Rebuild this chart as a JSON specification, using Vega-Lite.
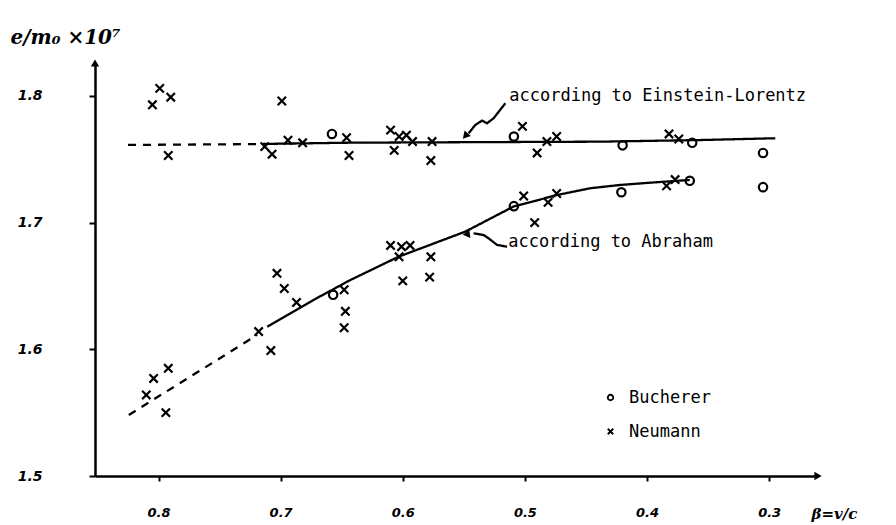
{
  "$schema": "https://vega.github.io/schema/vega-lite/v6.json",
  "width": 723,
  "height": 413,
  "autosize": {"type": "none"},
  "padding": {"left": 95, "top": 63, "right": 78, "bottom": 49},
  "background": "white",
  "config": {"view": {"stroke": null}, "axis": {"grid": false}},
  "datasets": {
    "obs": [
      {"beta": 0.805, "em": 1.793, "obs": "Neumann"},
      {"beta": 0.799, "em": 1.806, "obs": "Neumann"},
      {"beta": 0.790, "em": 1.799, "obs": "Neumann"},
      {"beta": 0.699, "em": 1.796, "obs": "Neumann"},
      {"beta": 0.792, "em": 1.753, "obs": "Neumann"},
      {"beta": 0.713, "em": 1.760, "obs": "Neumann"},
      {"beta": 0.707, "em": 1.754, "obs": "Neumann"},
      {"beta": 0.694, "em": 1.765, "obs": "Neumann"},
      {"beta": 0.682, "em": 1.763, "obs": "Neumann"},
      {"beta": 0.646, "em": 1.767, "obs": "Neumann"},
      {"beta": 0.644, "em": 1.753, "obs": "Neumann"},
      {"beta": 0.610, "em": 1.773, "obs": "Neumann"},
      {"beta": 0.603, "em": 1.768, "obs": "Neumann"},
      {"beta": 0.597, "em": 1.769, "obs": "Neumann"},
      {"beta": 0.592, "em": 1.764, "obs": "Neumann"},
      {"beta": 0.607, "em": 1.757, "obs": "Neumann"},
      {"beta": 0.576, "em": 1.764, "obs": "Neumann"},
      {"beta": 0.577, "em": 1.749, "obs": "Neumann"},
      {"beta": 0.502, "em": 1.776, "obs": "Neumann"},
      {"beta": 0.490, "em": 1.755, "obs": "Neumann"},
      {"beta": 0.482, "em": 1.764, "obs": "Neumann"},
      {"beta": 0.474, "em": 1.768, "obs": "Neumann"},
      {"beta": 0.382, "em": 1.770, "obs": "Neumann"},
      {"beta": 0.374, "em": 1.766, "obs": "Neumann"},
      {"beta": 0.703, "em": 1.660, "obs": "Neumann"},
      {"beta": 0.697, "em": 1.648, "obs": "Neumann"},
      {"beta": 0.687, "em": 1.637, "obs": "Neumann"},
      {"beta": 0.718, "em": 1.614, "obs": "Neumann"},
      {"beta": 0.708, "em": 1.599, "obs": "Neumann"},
      {"beta": 0.648, "em": 1.647, "obs": "Neumann"},
      {"beta": 0.647, "em": 1.630, "obs": "Neumann"},
      {"beta": 0.648, "em": 1.617, "obs": "Neumann"},
      {"beta": 0.810, "em": 1.564, "obs": "Neumann"},
      {"beta": 0.804, "em": 1.577, "obs": "Neumann"},
      {"beta": 0.792, "em": 1.585, "obs": "Neumann"},
      {"beta": 0.794, "em": 1.550, "obs": "Neumann"},
      {"beta": 0.610, "em": 1.682, "obs": "Neumann"},
      {"beta": 0.601, "em": 1.681, "obs": "Neumann"},
      {"beta": 0.594, "em": 1.682, "obs": "Neumann"},
      {"beta": 0.603, "em": 1.673, "obs": "Neumann"},
      {"beta": 0.577, "em": 1.673, "obs": "Neumann"},
      {"beta": 0.600, "em": 1.654, "obs": "Neumann"},
      {"beta": 0.578, "em": 1.657, "obs": "Neumann"},
      {"beta": 0.501, "em": 1.721, "obs": "Neumann"},
      {"beta": 0.492, "em": 1.700, "obs": "Neumann"},
      {"beta": 0.481, "em": 1.716, "obs": "Neumann"},
      {"beta": 0.474, "em": 1.723, "obs": "Neumann"},
      {"beta": 0.384, "em": 1.729, "obs": "Neumann"},
      {"beta": 0.377, "em": 1.734, "obs": "Neumann"},
      {"beta": 0.658, "em": 1.770, "obs": "Bucherer"},
      {"beta": 0.509, "em": 1.768, "obs": "Bucherer"},
      {"beta": 0.420, "em": 1.761, "obs": "Bucherer"},
      {"beta": 0.363, "em": 1.763, "obs": "Bucherer"},
      {"beta": 0.305, "em": 1.755, "obs": "Bucherer"},
      {"beta": 0.657, "em": 1.643, "obs": "Bucherer"},
      {"beta": 0.509, "em": 1.713, "obs": "Bucherer"},
      {"beta": 0.421, "em": 1.724, "obs": "Bucherer"},
      {"beta": 0.365, "em": 1.733, "obs": "Bucherer"},
      {"beta": 0.305, "em": 1.728, "obs": "Bucherer"}
    ],
    "curves": [
      {"curve": "EL-dash", "dash": "dashed", "ord": 1, "beta": 0.825, "em": 1.7613},
      {"curve": "EL-dash", "dash": "dashed", "ord": 2, "beta": 0.715, "em": 1.7620},
      {"curve": "EL", "dash": "solid", "ord": 1, "beta": 0.715, "em": 1.7621},
      {"curve": "EL", "dash": "solid", "ord": 2, "beta": 0.643, "em": 1.7631},
      {"curve": "EL", "dash": "solid", "ord": 3, "beta": 0.520, "em": 1.7636},
      {"curve": "EL", "dash": "solid", "ord": 4, "beta": 0.438, "em": 1.7639},
      {"curve": "EL", "dash": "solid", "ord": 5, "beta": 0.356, "em": 1.7652},
      {"curve": "EL", "dash": "solid", "ord": 6, "beta": 0.295, "em": 1.7666},
      {"curve": "Ab-dash", "dash": "dashed", "ord": 1, "beta": 0.8243, "em": 1.5482},
      {"curve": "Ab-dash", "dash": "dashed", "ord": 2, "beta": 0.7192, "em": 1.6113},
      {"curve": "Ab", "dash": "solid", "ord": 1, "beta": 0.7110, "em": 1.6179},
      {"curve": "Ab", "dash": "solid", "ord": 2, "beta": 0.6732, "em": 1.6389},
      {"curve": "Ab", "dash": "solid", "ord": 3, "beta": 0.6429, "em": 1.6547},
      {"curve": "Ab", "dash": "solid", "ord": 4, "beta": 0.6034, "em": 1.6731},
      {"curve": "Ab", "dash": "solid", "ord": 5, "beta": 0.5488, "em": 1.6929},
      {"curve": "Ab", "dash": "solid", "ord": 6, "beta": 0.5095, "em": 1.7126},
      {"curve": "Ab", "dash": "solid", "ord": 7, "beta": 0.4737, "em": 1.7218},
      {"curve": "Ab", "dash": "solid", "ord": 8, "beta": 0.4468, "em": 1.7271},
      {"curve": "Ab", "dash": "solid", "ord": 9, "beta": 0.4223, "em": 1.7297},
      {"curve": "Ab", "dash": "solid", "ord": 10, "beta": 0.3977, "em": 1.7315},
      {"curve": "Ab", "dash": "solid", "ord": 11, "beta": 0.3650, "em": 1.7337},
      {"curve": "arrowEL", "dash": "solid", "ord": 1, "beta": 0.5160, "em": 1.7942},
      {"curve": "arrowEL", "dash": "solid", "ord": 2, "beta": 0.5256, "em": 1.7824},
      {"curve": "arrowEL", "dash": "solid", "ord": 3, "beta": 0.5310, "em": 1.7784},
      {"curve": "arrowEL", "dash": "solid", "ord": 4, "beta": 0.5351, "em": 1.7805},
      {"curve": "arrowEL", "dash": "solid", "ord": 5, "beta": 0.5406, "em": 1.7771},
      {"curve": "arrowEL", "dash": "solid", "ord": 6, "beta": 0.5461, "em": 1.7705},
      {"curve": "arrowAb", "dash": "solid", "ord": 1, "beta": 0.5146, "em": 1.6810},
      {"curve": "arrowAb", "dash": "solid", "ord": 2, "beta": 0.5228, "em": 1.6824},
      {"curve": "arrowAb", "dash": "solid", "ord": 3, "beta": 0.5297, "em": 1.6876},
      {"curve": "arrowAb", "dash": "solid", "ord": 4, "beta": 0.5338, "em": 1.6902},
      {"curve": "arrowAb", "dash": "solid", "ord": 5, "beta": 0.5420, "em": 1.6916}
    ],
    "heads": [
      {"head": "EL", "beta": 0.5488, "em": 1.7684},
      {"head": "Ab", "beta": 0.5480, "em": 1.6908},
      {"head": "yaxis", "beta": 0.852, "em": 1.826},
      {"head": "xaxis", "beta": 0.26, "em": 1.5}
    ],
    "notes": [
      {"beta": 0.5128, "em": 1.7960, "label": "according to Einstein-Lorentz"},
      {"beta": 0.5136, "em": 1.6808, "label": "according to Abraham"}
    ]
  },
  "encoding": {
    "x": {
      "field": "beta",
      "type": "quantitative",
      "scale": {"domain": [0.26, 0.852], "reverse": true, "nice": false, "zero": false},
      "axis": {
        "values": [0.3, 0.4, 0.5, 0.6, 0.7, 0.8],
        "format": ".1f",
        "labelFont": "DejaVu Sans",
        "labelFontStyle": "italic",
        "labelFontWeight": "bold",
        "labelFontSize": 13,
        "labelColor": "black",
        "labelPadding": 25,
        "labelFlush": false,
        "tickSize": 5,
        "tickWidth": 2,
        "tickColor": "black",
        "domainColor": "black",
        "domainWidth": 2.5,
        "title": "β=v/c",
        "titleX": 716,
        "titleY": 37,
        "titleAlign": "left",
        "titleBaseline": "middle",
        "titleFont": "DejaVu Serif",
        "titleFontStyle": "italic",
        "titleFontWeight": "bold",
        "titleFontSize": 15,
        "titleColor": "black"
      }
    },
    "y": {
      "field": "em",
      "type": "quantitative",
      "scale": {"domain": [1.5, 1.826], "nice": false, "zero": false},
      "axis": {
        "values": [1.5, 1.6, 1.7, 1.8],
        "format": ".1f",
        "labelFont": "DejaVu Sans",
        "labelFontStyle": "italic",
        "labelFontWeight": "bold",
        "labelFontSize": 14,
        "labelColor": "black",
        "labelPadding": 47,
        "tickSize": 6,
        "tickWidth": 2,
        "tickColor": "black",
        "domainColor": "black",
        "domainWidth": 2.5,
        "title": "e/m₀ ×10⁷",
        "titleAngle": 0,
        "titleX": -85,
        "titleY": -20,
        "titleAlign": "left",
        "titleBaseline": "alphabetic",
        "titleFont": "DejaVu Serif",
        "titleFontStyle": "italic",
        "titleFontWeight": "bold",
        "titleFontSize": 20,
        "titleColor": "black"
      }
    }
  },
  "layer": [
    {
      "data": {"name": "curves"},
      "mark": {"type": "line", "color": "black", "strokeWidth": 2.3},
      "encoding": {
        "detail": {"field": "curve"},
        "order": {"field": "ord", "type": "quantitative"},
        "strokeDash": {
          "field": "dash",
          "type": "nominal",
          "scale": {"domain": ["solid", "dashed"], "range": [[1, 0], [8, 7]]},
          "legend": null
        }
      }
    },
    {
      "data": {"name": "obs"},
      "mark": {"type": "point", "filled": false, "color": "black", "strokeWidth": 2.2, "opacity": 1, "size": 70},
      "encoding": {
        "shape": {
          "field": "obs",
          "type": "nominal",
          "scale": {"domain": ["Bucherer", "Neumann"], "range": ["circle", "M-1,-1L1,1M1,-1L-1,1"]},
          "legend": {
            "orient": "none",
            "legendX": 507,
            "legendY": 326,
            "title": null,
            "labelFont": "DejaVu Sans Mono",
            "labelFontSize": 17,
            "labelColor": "black",
            "symbolSize": 30,
            "symbolStrokeWidth": 1.8,
            "symbolStrokeColor": "black",
            "rowPadding": 16,
            "labelOffset": 10
          }
        }
      }
    },
    {
      "data": {"name": "heads"},
      "transform": [{"filter": "datum.head === 'EL'"}],
      "mark": {"type": "point", "shape": "triangle-up", "filled": true, "color": "black", "opacity": 1, "size": 70, "angle": 222}
    },
    {
      "data": {"name": "heads"},
      "transform": [{"filter": "datum.head === 'Ab'"}],
      "mark": {"type": "point", "shape": "triangle-up", "filled": true, "color": "black", "opacity": 1, "size": 70, "angle": 262}
    },
    {
      "data": {"name": "heads"},
      "transform": [{"filter": "datum.head === 'yaxis'"}],
      "mark": {"type": "point", "shape": "triangle-up", "filled": true, "color": "black", "opacity": 1, "size": 70}
    },
    {
      "data": {"name": "heads"},
      "transform": [{"filter": "datum.head === 'xaxis'"}],
      "mark": {"type": "point", "shape": "triangle-right", "filled": true, "color": "black", "opacity": 1, "size": 70}
    },
    {
      "data": {"name": "notes"},
      "mark": {"type": "text", "align": "left", "baseline": "alphabetic", "font": "DejaVu Sans Mono", "fontSize": 17, "color": "black"},
      "encoding": {"text": {"field": "label"}}
    }
  ]
}
